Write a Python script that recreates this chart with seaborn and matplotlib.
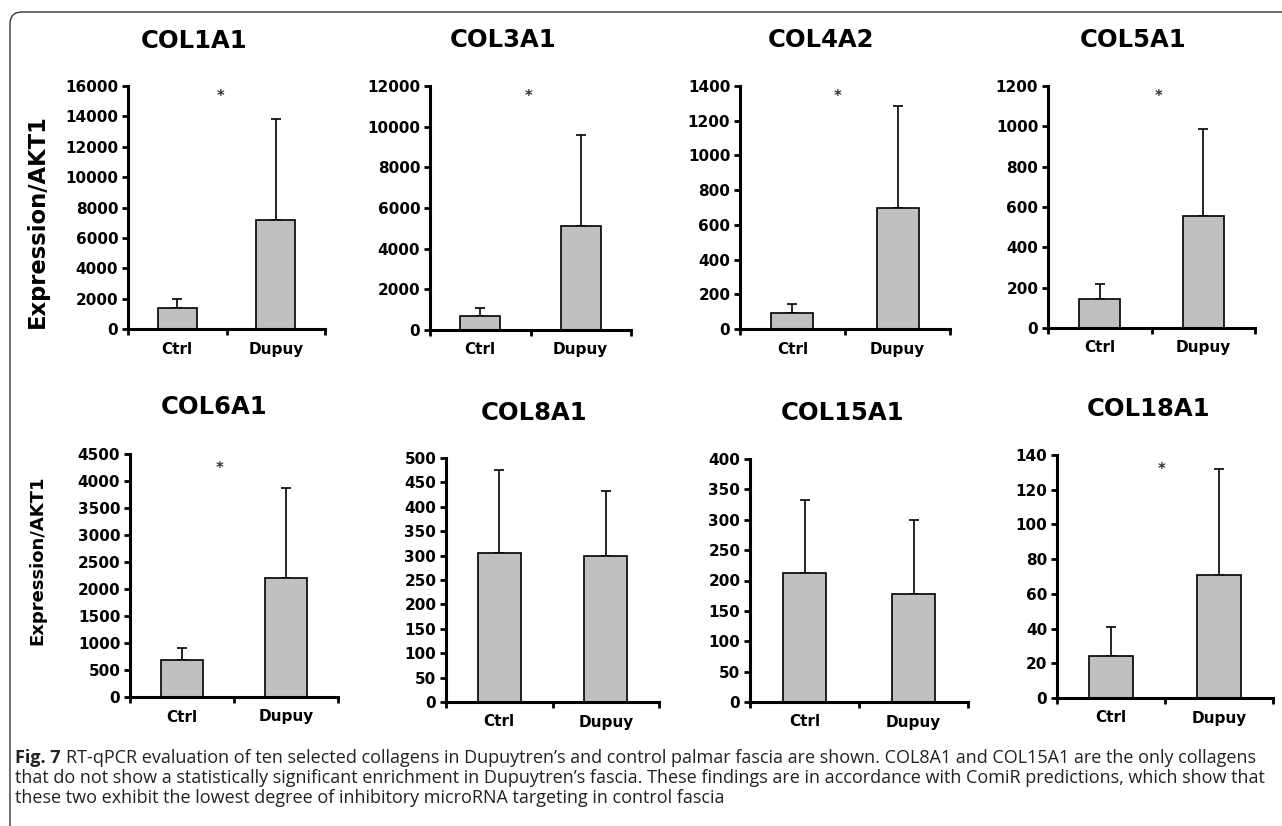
import numpy as np
import pandas as pd
import matplotlib
matplotlib.use("Agg")
import matplotlib.pyplot as plt
import matplotlib.transforms as mtransforms
from matplotlib.patches import FancyBboxPatch
from matplotlib.ticker import FixedLocator
import seaborn as sns

# ---------------- data ----------------
genes = ["COL1A1", "COL3A1", "COL4A2", "COL5A1", "COL6A1", "COL8A1", "COL15A1", "COL18A1"]
groups = ["Ctrl", "Dupuy"]
ctrl_mean = [1400, 700, 95, 145, 685, 305, 212, 24]
ctrl_sd = [600, 400, 50, 75, 220, 170, 121, 17]
dupuy_mean = [7200, 5100, 700, 555, 2210, 300, 177, 71]
dupuy_sd = [6600, 4500, 585, 430, 1655, 132, 123, 61]
y_max = [16000, 12000, 1400, 1200, 4500, 500, 400, 140]
y_step = [2000, 2000, 200, 200, 500, 50, 50, 20]
significant = [True, True, True, True, True, False, False, True]
y_label = "Expression/AKT1"
caption_bold = "Fig. 7"
caption_lines = [
    "RT-qPCR evaluation of ten selected collagens in Dupuytren\u2019s and control palmar fascia are shown. COL8A1 and COL15A1 are the only collagens",
    "that do not show a statistically significant enrichment in Dupuytren\u2019s fascia. These findings are in accordance with ComiR predictions, which show that",
    "these two exhibit the lowest degree of inhibitory microRNA targeting in control fascia",
]

# ---------------- layout (pixels) ----------------
W, H = 1282, 826
axes_px = [(128, 86, 325, 329), (430, 86, 631, 330), (740, 86, 950, 329), (1048, 86, 1255, 328),
           (130, 454, 338, 697), (446, 458, 659, 702), (750, 459, 968, 702), (1057, 455, 1273, 698)]
title_px = [(194, 41), (503, 40), (821, 40), (1133, 40),
            (214, 407), (534, 413), (842, 413), (1148, 409)]
star_x = [0.44, 0.48, 0.43, 0.57, 0.36, None, None, 0.47]
star_yf = [0.958, 0.958, 0.956, 0.956, 0.94, None, None, 0.942]
ylabel_px = [(37, 221, 16.3), (37, 560, 13)]

plt.rcParams["font.family"] = ["DejaVu Sans"]
plt.rcParams["font.weight"] = "bold"

fig = plt.figure(figsize=(W / 100, H / 100), dpi=100)

for i, g in enumerate(genes):
    l, t, r, b = axes_px[i]
    ax = fig.add_axes([l / W, 1 - b / H, (r - l) / W, (b - t) / H])
    df = pd.DataFrame({"group": groups, "value": [ctrl_mean[i], dupuy_mean[i]]})
    sns.barplot(data=df, x="group", y="value", ax=ax, color="#c0c0c0",
                edgecolor="black", linewidth=1.2, width=0.4, saturation=1,
                errorbar=None, zorder=2)
    ax.errorbar([0, 1], df["value"], yerr=[[0, 0], [ctrl_sd[i], dupuy_sd[i]]],
                fmt="none", ecolor="black", elinewidth=1.2, capsize=3.5,
                capthick=1.2, zorder=1)
    ax.set_xlim(-0.5, 1.5)
    ax.set_ylim(0, y_max[i])
    ax.set_yticks(np.arange(0, y_max[i] + y_step[i] / 2, y_step[i]))
    ax.set_xlabel("")
    ax.set_ylabel("")
    for s in ["top", "right"]:
        ax.spines[s].set_visible(False)
    for s in ["left", "bottom"]:
        ax.spines[s].set_linewidth(2.2)
        ax.spines[s].set_color("black")
    ax.xaxis.set_minor_locator(FixedLocator([-0.5, 0.5, 1.5]))
    ax.tick_params(axis="y", direction="out", length=4, width=2, labelsize=11, pad=3)
    ax.tick_params(axis="x", which="major", length=0, labelsize=11, pad=9)
    ax.tick_params(axis="x", which="minor", direction="out", length=4, width=2)
    for lab in ax.get_xticklabels() + ax.get_yticklabels():
        lab.set_fontweight("bold")
    ax.patch.set_alpha(0)
    fig.text(title_px[i][0] / W, 1 - title_px[i][1] / H, g, ha="center", va="center",
             fontsize=17.5, fontweight="bold")
    if significant[i]:
        trans = mtransforms.blended_transform_factory(ax.transData, ax.transAxes)
        ax.text(star_x[i], star_yf[i], "*", transform=trans, ha="center", va="center",
                fontsize=10.5, fontweight="bold", color="#333333")

for x, y, fs in ylabel_px:
    fig.text(x / W, 1 - y / H, y_label, rotation=90, ha="center", va="center",
             fontsize=fs, fontweight="bold")

# caption
cap_fs = 13.0
cap_fam = ["Open Sans", "DejaVu Sans"]
cap_y = [758, 778, 798]
renderer = fig.canvas.get_renderer()
tb = fig.text(15 / W, 1 - cap_y[0] / H, caption_bold, fontsize=cap_fs, fontweight="bold",
              family=cap_fam, va="center", ha="left", color="#222222")
bb = tb.get_window_extent(renderer)
fig.text((bb.x1 + 5) / W, 1 - cap_y[0] / H, caption_lines[0], fontsize=cap_fs,
         fontweight="normal", family=cap_fam, va="center", ha="left", color="#222222")
for k in (1, 2):
    fig.text(15 / W, 1 - cap_y[k] / H, caption_lines[k], fontsize=cap_fs, fontweight="normal",
             family=cap_fam, va="center", ha="left", color="#222222")

# frame
frame = FancyBboxPatch((0.10, -1.0), 14.0, 9.14, boxstyle="round,pad=0,rounding_size=0.12",
                       transform=fig.dpi_scale_trans, fill=False, lw=1.0, edgecolor="#333333")
fig.add_artist(frame)

fig.savefig("out.png", dpi=100)
